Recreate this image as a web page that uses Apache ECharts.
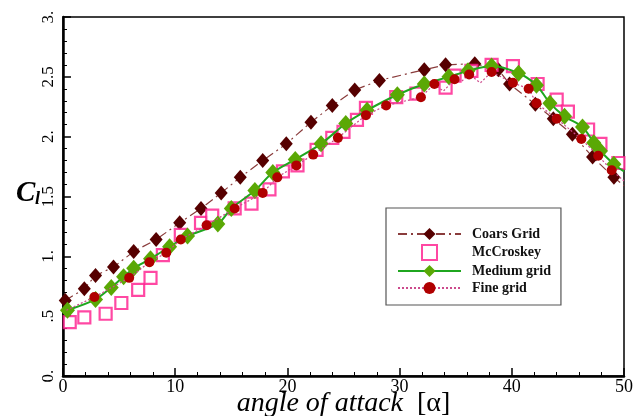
<!DOCTYPE html>
<html>
<head>
<meta charset="utf-8">
<script src="https://cdn.jsdelivr.net/npm/echarts@6/dist/echarts.min.js"></script>
<style>
  html, body { margin: 0; padding: 0; background: #fff; }
  #chart { width: 633px; height: 416px; }
</style>
</head>
<body>
<div id="chart"></div>
<script>
// Lift coefficient vs angle of attack: three grid resolutions and McCroskey's data.

// Coarse grid (marked points)
const coarseAlpha = [0.2, 1.9, 2.9, 4.5, 6.3, 8.3, 10.4, 12.3, 14.1, 15.8, 17.8, 19.9, 22.1, 24.0, 26.0, 28.2, 32.2, 34.1, 36.7, 38.8, 39.8, 42.1, 43.7, 45.4, 47.2, 49.1];
const coarseCl    = [0.63, 0.73, 0.84, 0.91, 1.04, 1.14, 1.28, 1.40, 1.53, 1.66, 1.80, 1.94, 2.12, 2.26, 2.39, 2.47, 2.56, 2.60, 2.61, 2.56, 2.44, 2.27, 2.15, 2.02, 1.83, 1.66];
// Coarse grid curve end at the frame (no marker)
const coarseBareAlpha = [50];
const coarseBareCl    = [1.59];

// McCroskey experimental data
const mcAlpha = [0.6, 1.9, 3.8, 5.2, 6.7, 7.8, 8.9, 10.5, 12.3, 13.3, 15.3, 16.8, 18.4, 19.6, 20.9, 22.6, 24.0, 25.0, 26.2, 27.0, 29.7, 31.5, 34.1, 34.9, 36.4, 38.2, 40.1, 42.3, 44.0, 45.0, 46.8, 47.9, 49.5];
const mcCl    = [0.45, 0.49, 0.52, 0.61, 0.72, 0.82, 1.01, 1.18, 1.28, 1.34, 1.40, 1.44, 1.56, 1.71, 1.76, 1.89, 1.99, 2.04, 2.14, 2.24, 2.33, 2.36, 2.41, 2.51, 2.55, 2.60, 2.59, 2.44, 2.31, 2.21, 2.06, 1.94, 1.78];

// Medium grid
const medAlpha = [0.4, 2.9, 4.3, 5.4, 6.3, 7.8, 9.5, 11.1, 13.8, 15.0, 17.1, 18.7, 20.7, 23.0, 25.2, 27.1, 29.8, 32.2, 34.4, 36.1, 38.2, 40.6, 42.2, 43.4, 44.7, 46.3, 47.3, 47.9, 49.1];
const medCl    = [0.55, 0.64, 0.74, 0.83, 0.90, 0.98, 1.08, 1.17, 1.27, 1.40, 1.55, 1.70, 1.81, 1.94, 2.11, 2.22, 2.35, 2.44, 2.50, 2.55, 2.59, 2.53, 2.43, 2.28, 2.17, 2.08, 1.95, 1.88, 1.77];
const medBareAlpha = [50];
const medBareCl    = [1.71];

// Fine grid (marked points + unmarked samples of the dotted curve)
const fineAlpha = [2.8, 5.9, 7.7, 9.2, 10.5, 12.8, 15.3, 17.8, 19.1, 20.8, 22.3, 24.5, 27.0, 28.8, 31.9, 33.1, 34.9, 36.2, 38.2, 40.1, 41.5, 42.2, 44.0, 46.2, 47.7, 48.9];
const fineCl    = [0.66, 0.82, 0.95, 1.03, 1.14, 1.26, 1.40, 1.53, 1.66, 1.76, 1.85, 1.99, 2.18, 2.26, 2.33, 2.44, 2.48, 2.52, 2.54, 2.45, 2.40, 2.28, 2.15, 1.98, 1.84, 1.72];
const fineBareAlpha = [0.3, 33.9, 35.5, 37.2, 50];
const fineBareCl    = [0.55, 2.38, 2.46, 2.45, 1.63];

// Axis tick labels
const xTicks = [0, 10, 20, 30, 40, 50];
const yTickValues = [0, 0.5, 1, 1.5, 2, 2.5, 3];
const yTickLabels = ['0.', '.5', '1.', '1.5', '2.', '2.5', '3.'];

const seriesNames = ['Coars Grid', 'McCroskey', 'Medium grid', 'Fine grid'];

function pairs(xs, ys) {
  return xs.map((x, i) => [x, ys[i]]);
}
// Merge marked and unmarked points into one curve ordered by alpha
function curve(markA, markC, bareA, bareC) {
  const marked = pairs(markA, markC).map(p => ({ value: p }));
  const bare = pairs(bareA, bareC).map(p => ({ value: p, symbol: 'none' }));
  return marked.concat(bare).sort((a, b) => a.value[0] - b.value[0]);
}

const serif = 'Liberation Serif, DejaVu Serif, serif';
const pink = '#ff1a8c';

const chart = echarts.init(document.getElementById('chart'), null, { renderer: 'canvas' });

chart.setOption({
  animation: false,
  backgroundColor: '#fff',
  grid: {
    left: 63, right: 9, top: 17, bottom: 40,
    outerBoundsMode: 'none', containLabel: false,
    show: true, borderColor: '#000', borderWidth: 1.5, backgroundColor: 'transparent'
  },
  xAxis: {
    type: 'value', min: 0, max: 50, interval: 10,
    name: '{i|angle of attack}{n|[α]}',
    nameLocation: 'middle', nameGap: 14, nameMoveOverlap: false,
    nameTextStyle: {
      verticalAlign: 'top',
      rich: {
        i: { fontFamily: serif, fontStyle: 'italic', fontSize: 28, color: '#000' },
        n: { fontFamily: serif, fontSize: 28, color: '#000', padding: [0, 0, 0, 14] }
      }
    },
    axisLine: { show: true, lineStyle: { color: '#000', width: 2.5 } },
    axisTick: { show: true, inside: true, length: 8, lineStyle: { color: '#000', width: 1.5 } },
    minorTick: { show: true, splitNumber: 5, length: 4, lineStyle: { color: '#000', width: 1 } },
    splitLine: { show: false },
    axisLabel: {
      fontFamily: serif, fontSize: 18, color: '#000', margin: 2,
      formatter: v => (xTicks.includes(v) ? String(v) : '')
    }
  },
  yAxis: {
    type: 'value', min: 0, max: 3, interval: 0.5,
    axisLine: { show: true, lineStyle: { color: '#000', width: 2.5 } },
    axisTick: { show: true, inside: true, length: 8, lineStyle: { color: '#000', width: 1.5 } },
    minorTick: { show: true, splitNumber: 5, length: 4, lineStyle: { color: '#000', width: 1 } },
    splitLine: { show: false },
    axisLabel: {
      fontFamily: serif, fontSize: 17, color: '#000', margin: 6, rotate: 90,
      formatter: v => {
        const i = yTickValues.findIndex(t => Math.abs(t - v) < 1e-9);
        return i >= 0 ? yTickLabels[i] : '';
      }
    }
  },
  graphic: [
    {
      // C_l axis symbol: main letter
      type: 'text', left: 16, top: 179, z: 10,
      style: { text: 'C', font: 'italic bold 29px ' + serif, fill: '#000' }
    },
    {
      // subscript l
      type: 'text', left: 35, top: 190, z: 10,
      style: { text: 'l', font: 'italic bold 18px ' + serif, fill: '#000' }
    }
  ],
  legend: {
    data: [
      seriesNames[0],
      { name: seriesNames[1], icon: 'path://M0,0H10V10H0Z' },
      seriesNames[2],
      seriesNames[3]
    ],
    orient: 'vertical',
    left: 386, top: 208,
    padding: [19, 10, 10, 11],
    itemGap: 3,
    itemWidth: 63, itemHeight: 15,
    symbolKeepAspect: true,
    backgroundColor: '#fff',
    borderColor: '#555', borderWidth: 1.2, borderRadius: 0,
    textStyle: { fontFamily: serif, fontWeight: 'bold', fontSize: 14, color: '#111', padding: [0, 0, 0, 6] }
  },
  series: [
    {
      name: seriesNames[0], type: 'line', z: 2,
      data: curve(coarseAlpha, coarseCl, coarseBareAlpha, coarseBareCl),
      symbol: 'diamond', symbolSize: [13, 15], showAllSymbol: true,
      itemStyle: { color: '#560000' },
      lineStyle: { color: '#8a3c3c', width: 1.2, type: [9, 4, 2, 4] }
    },
    {
      name: seriesNames[1], type: 'scatter', z: 3,
      data: pairs(mcAlpha, mcCl),
      symbol: 'rect', symbolSize: 12,
      itemStyle: { color: '#fff', borderColor: pink, borderWidth: 2.2 }
    },
    {
      name: seriesNames[2], type: 'line', z: 4, smooth: 0.3,
      data: curve(medAlpha, medCl, medBareAlpha, medBareCl),
      symbol: 'diamond', symbolSize: [15, 17], showAllSymbol: true,
      itemStyle: { color: '#5aa805' },
      lineStyle: { color: '#1fa61f', width: 2 }
    },
    {
      name: seriesNames[3], type: 'line', z: 5,
      data: curve(fineAlpha, fineCl, fineBareAlpha, fineBareCl),
      symbol: 'circle', symbolSize: 10, showAllSymbol: true,
      itemStyle: { color: '#b00000' },
      lineStyle: { color: '#cc4a8c', width: 1.2, type: [2, 2] }
    }
  ]
});
</script>
</body>
</html>
